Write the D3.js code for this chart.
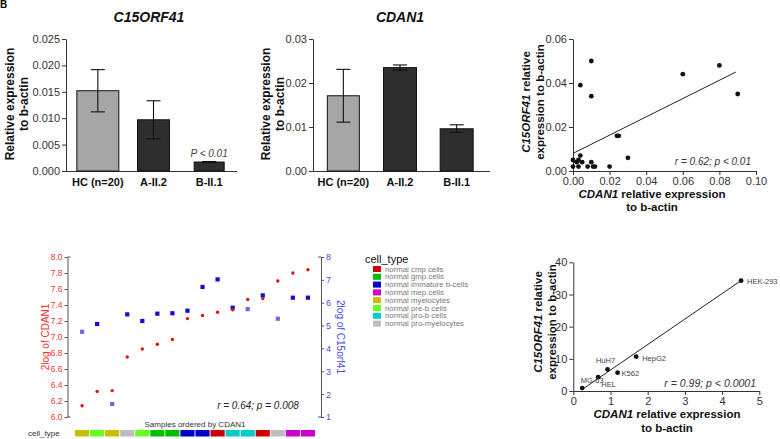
<!DOCTYPE html>
<html><head><meta charset="utf-8">
<script src="https://cdn.jsdelivr.net/npm/d3@7"></script>
<style>body{margin:0;background:#fff}svg{display:block;font-family:"Liberation Sans",Arial,sans-serif}</style>
</head><body><svg id="c" width="780" height="439"></svg>
<script>
// ---------- data ----------
const barGroups = ["HC (n=20)", "A-II.2", "B-II.1"];
const c15Mean = [0.0152, 0.0097, 0.0017];
const c15Lo   = [0.0112, 0.0061, 0.0016];
const c15Hi   = [0.0192, 0.0133, 0.0018];
const c15Ticks = [0, 0.005, 0.010, 0.015, 0.020, 0.025];
const cdanMean = [0.0171, 0.0235, 0.0096];
const cdanLo   = [0.0111, 0.0229, 0.0088];
const cdanHi   = [0.0231, 0.0241, 0.0105];
const cdanTicks = [0, 0.01, 0.02, 0.03];

const scatterCdan = [0.010, 0.004, 0.010, 0.060, 0.080, 0.090, 0.024, 0.025, 0.030, 0.020, 0.000, 0.002, 0.004, 0.000, 0.003, 0.005, 0.010, 0.008, 0.011, 0.012, 0.003];
const scatterC15  = [0.050, 0.039, 0.034, 0.044, 0.048, 0.035, 0.016, 0.016, 0.006, 0.002, 0.005, 0.004, 0.007, 0.002, 0.002, 0.004, 0.004, 0.002, 0.002, 0.002, 0.005];
const scatterFitX = [0, 0.089];
const scatterFitY = [0.008, 0.045];
const scatterXTicks = [0, 0.02, 0.04, 0.06, 0.08, 0.10];
const scatterYTicks = [0, 0.02, 0.04, 0.06];

const cellTypes  = ["normal cmp cells", "normal gmp cells", "normal immature b-cells", "normal mep cells", "normal myelocytes", "normal pre-b cells", "normal pro-b cells", "normal pro-myelocytes"];
const cellColors = ["#cc0000", "#00c000", "#0000c8", "#cc00cc", "#c8bf00", "#66ff22", "#00cccc", "#bebebe"];
const sampleTypes = ["normal myelocytes", "normal pre-b cells", "normal myelocytes", "normal pro-myelocytes", "normal pre-b cells", "normal gmp cells", "normal gmp cells", "normal immature b-cells", "normal immature b-cells", "normal cmp cells", "normal pro-b cells", "normal pro-b cells", "normal cmp cells", "normal pro-myelocytes", "normal mep cells", "normal mep cells"];
const log2Cdan = [6.14, 6.32, 6.33, 6.75, 6.85, 6.91, 6.97, 7.23, 7.27, 7.31, 7.34, 7.47, 7.48, 7.70, 7.80, 7.84];
const log2C15  = [4.73, 5.07, 1.57, 5.49, 5.20, 5.52, 5.54, 5.65, 6.69, 7.02, 5.78, 5.72, 6.32, 5.30, 6.22, 6.22];
const leftTicks = [6.0, 6.2, 6.4, 6.6, 6.8, 7.0, 7.2, 7.4, 7.6, 7.8, 8.0];
const rightTicks = [1, 2, 3, 4, 5, 6, 7, 8];

const lineNames = ["HEK-293", "HepG2", "K562", "HuH7", "HEL", "MG-63"];
const lineCdan  = [4.51, 1.69, 1.19, 0.92, 0.67, 0.24];
const lineC15   = [34.3, 10.7, 5.7, 6.7, 4.3, 0.9];
const lineFitX  = [0.24, 4.52];
const lineFitY  = [0.5, 34.4];
const lineXTicks = [0, 1, 2, 3, 4, 5];
const lineYTicks = [0, 10, 20, 30, 40];

// ---------- drawing ----------
const svg = d3.select("#c");

function styleAxis(g, col, size, lineCol) {
  g.selectAll("text").attr("fill", col).style("font-size", size + "px").style("font-family", '"Liberation Sans", Arial, sans-serif');
  g.select(".domain").attr("stroke", lineCol);
  g.selectAll(".tick line").attr("stroke", lineCol);
}

function rotLabel(x, y, lines, opts) {
  const t = svg.append("text").attr("transform", `translate(${x},${y}) rotate(-90)`)
    .attr("text-anchor", "middle").style("font-size", opts.size + "px")
    .style("font-weight", opts.bold ? "bold" : "normal").attr("fill", opts.color || "#111");
  lines.forEach((ln, i) => {
    ln.forEach((seg, j) => {
      const ts = t.append("tspan").text(seg[0]).style("font-style", seg[1] ? "italic" : "normal");
      if (j === 0) ts.attr("x", 0).attr("dy", i === 0 ? 0 : opts.lh);
    });
  });
  return t;
}

function hLabel(x, y, lines, opts) {
  const t = svg.append("text").attr("x", x).attr("y", y).attr("text-anchor", opts.anchor || "middle")
    .style("font-size", opts.size + "px").style("font-weight", opts.bold ? "bold" : "normal")
    .attr("fill", opts.color || "#111");
  lines.forEach((ln, i) => {
    ln.forEach((seg, j) => {
      const ts = t.append("tspan").text(seg[0]).style("font-style", seg[1] ? "italic" : "normal");
      if (j === 0) ts.attr("x", x).attr("dy", i === 0 ? 0 : opts.lh);
    });
  });
  return t;
}

// panel letter
svg.append("text").attr("x", 0).attr("y", 8).text("B").style("font-size", "10px").style("font-weight", "bold").attr("fill", "#000");

function barPanel(o) {
  const y = d3.scaleLinear().domain([0, o.max]).range([171, 39]);
  const x = d3.scalePoint().domain(barGroups).range(o.xr).padding(0.5);
  const ga = svg.append("g").attr("transform", `translate(${o.ax},0)`)
    .call(d3.axisLeft(y).tickValues(o.ticks).tickFormat(d3.format(o.fmt)).tickSize(4).tickSizeOuter(0).tickPadding(2));
  styleAxis(ga, "#333", 11, "#333");
  svg.append("line").attr("x1", o.ax).attr("x2", o.xEnd).attr("y1", y(0) + 0.5).attr("y2", y(0) + 0.5).attr("stroke", "#333");
  barGroups.forEach((name, i) => {
    const cx = x(name);
    const w = o.widths[i];
    svg.append("rect").attr("x", cx - w / 2).attr("y", y(o.mean[i])).attr("width", w)
      .attr("height", y(0) - y(o.mean[i])).attr("fill", i === 0 ? "#a6a6a6" : "#2e2e2e")
      .attr("stroke", "#111").attr("stroke-width", 1);
    const eb = svg.append("g").attr("stroke", "#111").attr("stroke-width", 1.1);
    eb.append("line").attr("x1", cx).attr("x2", cx).attr("y1", y(o.hi[i])).attr("y2", y(o.lo[i]));
    eb.append("line").attr("x1", cx - 7).attr("x2", cx + 7).attr("y1", y(o.hi[i])).attr("y2", y(o.hi[i]));
    eb.append("line").attr("x1", cx - 7).attr("x2", cx + 7).attr("y1", y(o.lo[i])).attr("y2", y(o.lo[i]));
    svg.append("text").attr("x", cx).attr("y", 186).attr("text-anchor", "middle")
      .style("font-size", "11px").style("font-weight", "bold").attr("fill", "#111").text(name);
  });
  hLabel(o.titleX, 22, [[[o.title, true]]], {size: 14, bold: true});
  rotLabel(o.ylx, o.yly, [[["Relative expression", false]], [["to b-actin", false]]], {size: 12, bold: true, lh: 14});
  return {x, y};
}

const p1 = barPanel({max: 0.025, ticks: c15Ticks, fmt: ".3f", ax: 66, xEnd: 237, xr: [70, 237],
  mean: c15Mean, lo: c15Lo, hi: c15Hi, widths: [42, 32, 30], title: "C15ORF41", titleX: 149, ylx: 14, yly: 104});
svg.append("text").attr("x", p1.x("B-II.1")).attr("y", p1.y(c15Hi[2]) - 4).attr("text-anchor", "middle")
  .style("font-size", "10px").style("font-style", "italic").attr("fill", "#444").text("P < 0.01");

barPanel({max: 0.03, ticks: cdanTicks, fmt: ".2f", ax: 313, xEnd: 490, xr: [315, 485],
  mean: cdanMean, lo: cdanLo, hi: cdanHi, widths: [32, 33, 33], title: "CDAN1", titleX: 400, ylx: 270, yly: 104});

// ---------- top-right scatter ----------
{
  const x = d3.scaleLinear().domain([0, 0.1]).range([573, 756]);
  const y = d3.scaleLinear().domain([0, 0.06]).range([171, 39]);
  const gy = svg.append("g").attr("transform", "translate(573,0)")
    .call(d3.axisLeft(y).tickValues(scatterYTicks).tickFormat(d3.format(".2f")).tickSize(4).tickSizeOuter(0).tickPadding(2));
  styleAxis(gy, "#333", 11, "#333");
  const gx = svg.append("g").attr("transform", "translate(0,171)")
    .call(d3.axisBottom(x).tickValues(scatterXTicks).tickFormat(d3.format(".2f")).tickSize(4).tickSizeOuter(0).tickPadding(2));
  styleAxis(gx, "#333", 11, "#333");
  svg.append("line").attr("x1", x(scatterFitX[0])).attr("y1", y(scatterFitY[0]))
    .attr("x2", x(scatterFitX[1])).attr("y2", y(scatterFitY[1])).attr("stroke", "#222").attr("stroke-width", 1);
  svg.selectAll(".sp").data(scatterCdan).enter().append("circle")
    .attr("cx", (d) => x(d)).attr("cy", (d, i) => y(scatterC15[i])).attr("r", 2.4).attr("fill", "#111");
  hLabel(751, 165, [[["r = 0.62; p < 0.01", true]]], {size: 10, anchor: "end", color: "#333"});
  hLabel(652, 198, [[["CDAN1", true], [" relative expression", false]], [["to b-actin", false]]], {size: 11.5, bold: true, lh: 13});
  rotLabel(530, 102, [[["C15ORF41", true], [" relative", false]], [["expression to b-actin", false]]], {size: 11.5, bold: true, lh: 14});
}

// ---------- bottom-left expression plot ----------
{
  const x = d3.scaleBand().domain(d3.range(log2Cdan.length)).range([75, 315]).paddingInner(0.06);
  const yl = d3.scaleLinear().domain([6, 8]).range([417, 257]);
  const yr = d3.scaleLinear().domain([1, 8]).range([417, 257]);
  const red = "#ee3333", blue = "#4a4af0";
  const gl = svg.append("g").attr("transform", "translate(67.5,0)")
    .call(d3.axisLeft(yl).tickValues(leftTicks).tickFormat(d3.format(".1f")).tickSize(3).tickSizeOuter(0).tickPadding(2));
  styleAxis(gl, red, 8.5, "#555");
  const gr = svg.append("g").attr("transform", "translate(321,0)")
    .call(d3.axisRight(yr).tickValues(rightTicks).tickFormat(d3.format("d")).tickSize(3).tickSizeOuter(0).tickPadding(2));
  styleAxis(gr, blue, 9, "#555");
  // end caps
  [[67.5, 1], [321, -1]].forEach(([ax, dir]) => {
    [257, 417].forEach(yy => svg.append("line").attr("x1", ax).attr("x2", ax + 3 * dir).attr("y1", yy).attr("y2", yy).attr("stroke", "#555"));
  });
  rotLabel(49, 337, [[["2log of CDAN1", false]]], {size: 10, color: red});
  svg.append("text").attr("transform", "translate(337,337) rotate(90)").attr("text-anchor", "middle")
    .style("font-size", "10px").attr("fill", blue).text("2log of C15orf41");
  const cx = (i) => x(i) + x.bandwidth() / 2;
  const faded = new Set([0, 2, 11, 13]);
  log2C15.forEach((v, i) => {
    svg.append("rect").attr("x", cx(i) - 2.1).attr("y", yr(v) - 2.1).attr("width", 4.2).attr("height", 4.2)
      .attr("fill", faded.has(i) ? "#6a6ae6" : "#1010cc");
  });
  log2Cdan.forEach((v, i) => {
    svg.append("circle").attr("cx", cx(i)).attr("cy", yl(v)).attr("r", 1.7).attr("fill", "#dd1111");
  });
  hLabel(258, 409, [[["r = 0.64; p = 0.008", true]]], {size: 10, color: "#222"});
  hLabel(195, 427, [[["Samples ordered by CDAN1", false]]], {size: 8, color: "#333"});
  hLabel(28, 436, [[["cell_type", false]]], {size: 8, color: "#333", anchor: "start"});
  const colorOf = d3.scaleOrdinal().domain(cellTypes).range(cellColors);
  sampleTypes.forEach((t, i) => {
    svg.append("rect").attr("x", x(i)).attr("y", 430).attr("width", x.bandwidth()).attr("height", 6.5).attr("fill", colorOf(t));
  });
  // legend
  hLabel(365, 263, [[["cell_type", false]]], {size: 11, color: "#111", anchor: "start"});
  cellTypes.forEach((t, i) => {
    const yy = 266 + i * 7.8;
    svg.append("rect").attr("x", 373).attr("y", yy).attr("width", 8).attr("height", 6).attr("fill", colorOf(t));
    svg.append("text").attr("x", 385).attr("y", yy + 5.6).style("font-size", "7.8px").attr("fill", "#777").text(t);
  });
}

// ---------- bottom-right cell line scatter ----------
{
  const x = d3.scaleLinear().domain([0, 5]).range([573.3, 759.3]);
  const y = d3.scaleLinear().domain([0, 40]).range([391, 262.3]);
  const gy = svg.append("g").attr("transform", "translate(573.3,0)")
    .call(d3.axisLeft(y).tickValues(lineYTicks).tickFormat(d3.format("d")).tickSize(4).tickSizeOuter(0).tickPadding(2));
  styleAxis(gy, "#333", 11, "#333");
  const gx = svg.append("g").attr("transform", "translate(0,391)")
    .call(d3.axisBottom(x).tickValues(lineXTicks).tickFormat(d3.format("d")).tickSize(4).tickSizeOuter(0).tickPadding(2));
  styleAxis(gx, "#333", 11, "#333");
  svg.append("line").attr("x1", x(lineFitX[0])).attr("y1", y(lineFitY[0]))
    .attr("x2", x(lineFitX[1])).attr("y2", y(lineFitY[1])).attr("stroke", "#222").attr("stroke-width", 1);
  lineCdan.forEach((v, i) => {
    svg.append("circle").attr("cx", x(v)).attr("cy", y(lineC15[i])).attr("r", 2.4).attr("fill", "#111");
  });
  const off = {"HEK-293": [6, 3, "start"], "HepG2": [6, 4, "start"], "K562": [4, 3, "start"], "HuH7": [-2, -6, "middle"], "HEL": [3, 10, "start"], "MG-63": [10, -5, "middle"]};
  lineNames.forEach((n, i) => {
    const o = off[n];
    svg.append("text").attr("x", x(lineCdan[i]) + o[0]).attr("y", y(lineC15[i]) + o[1]).attr("text-anchor", o[2])
      .style("font-size", "7.5px").attr("fill", "#444").text(n);
  });
  hLabel(756, 387, [[["r = 0.99; p < 0.0001", true]]], {size: 10.5, anchor: "end", color: "#333"});
  hLabel(667, 418, [[["CDAN1", true], [" relative expression", false]], [["to b-actin", false]]], {size: 11.5, bold: true, lh: 14});
  rotLabel(542, 322, [[["C15ORF41", true], [" relative", false]], [["expression to b-actin", false]]], {size: 11.5, bold: true, lh: 14});
}
</script></body></html>
